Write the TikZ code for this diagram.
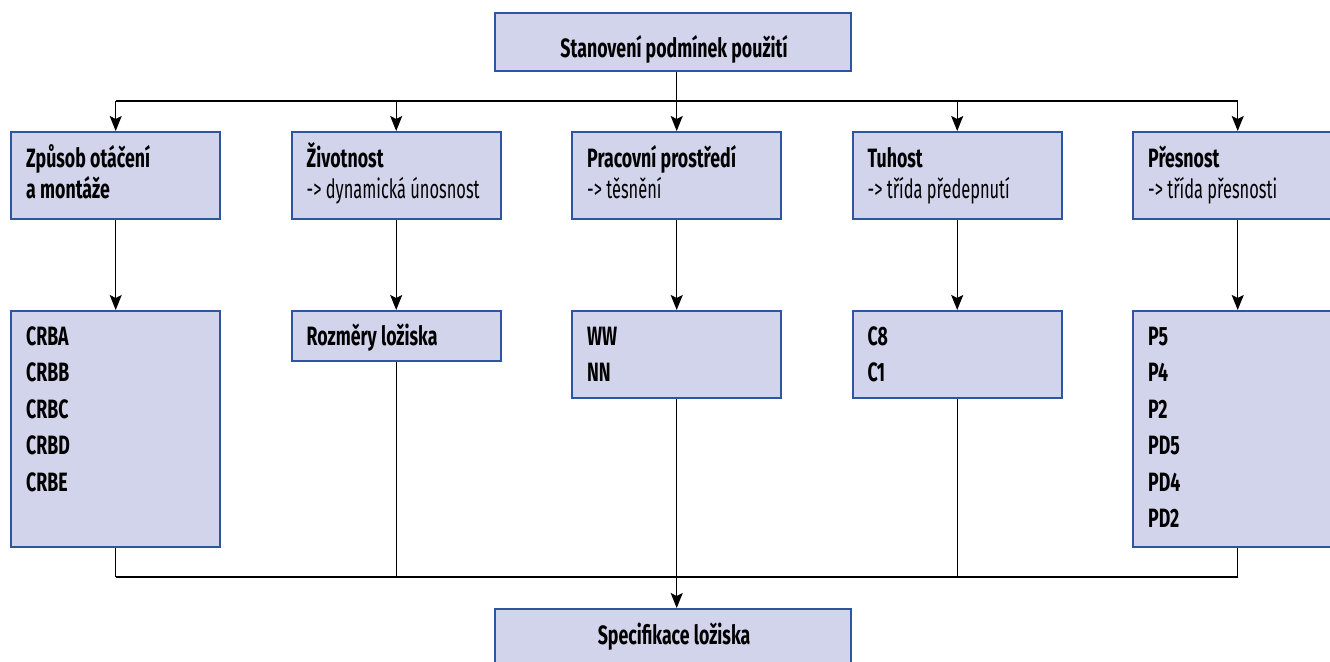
\documentclass[tikz,border=0pt]{standalone}
\usepackage{fontspec}
\setmainfont{Fira Sans}[FakeStretch=0.62, BoldFeatures={FakeStretch=0.67}]
\usetikzlibrary{arrows.meta}
\definecolor{boxfill}{RGB}{210,212,235}
\definecolor{boxdraw}{RGB}{47,84,160}
\tikzset{
  box/.style={draw=boxdraw, fill=boxfill, line width=2.4pt, inner sep=0pt, anchor=north west, minimum width=209pt},
  hbox/.style={box, minimum height=87pt},
  txtb/.style={anchor=base west, inner sep=0pt, font=\bfseries\fontsize{26.5}{30}\selectfont},
  txtn/.style={anchor=base west, inner sep=0pt, font=\fontsize{26.5}{30}\selectfont},
  conn/.style={draw=black, line width=1.2pt},
  arr/.style={conn, -{Stealth[length=15pt,width=12pt,inset=3pt]}}
}
\begin{document}
\begin{tikzpicture}[x=1pt,y=-1pt]
\useasboundingbox (0,0) rectangle (1330,661);
\clip (0,0) rectangle (1330,661);
% boxes
\node[box, minimum width=356pt, minimum height=58pt] (top) at (494,12) {};
\node[box, minimum width=356pt, minimum height=56pt] (spec) at (494,608) {};
\node[hbox] (b1) at (10,131) {};
\node[hbox] (b2) at (290.5,131) {};
\node[hbox] (b3) at (571,131) {};
\node[hbox] (b4) at (851.5,131) {};
\node[hbox] (b5) at (1132,131) {};
\node[box, minimum height=236pt] (c1) at (10,310) {};
\node[box, minimum height=50pt] (c2) at (290.5,310) {};
\node[box, minimum height=87pt] (c3) at (571,310) {};
\node[box, minimum height=87pt] (c4) at (851.5,310) {};
\node[box, minimum height=236pt] (c5) at (1132,310) {};
% texts
\node[txtb, anchor=base] (ttop) at (674,57) {Stanovení podmínek použití};
\node[txtb, anchor=base] (tspec) at (674,644) {Specifikace ložiska};
\node[txtb] (t1a) at ([shift={(16,36)}]b1.north west) {Způsob otáčení};
\node[txtb] (t1b) at ([shift={(16,67)}]b1.north west) {a montáže};
\node[txtb] (t2a) at ([shift={(16,36)}]b2.north west) {Životnost};
\node[txtn] (t2b) at ([shift={(16,67)}]b2.north west) {-> dynamická únosnost};
\node[txtb] (t3a) at ([shift={(16,36)}]b3.north west) {Pracovní prostředí};
\node[txtn] (t3b) at ([shift={(16,67)}]b3.north west) {-> těsnění};
\node[txtb] (t4a) at ([shift={(16,36)}]b4.north west) {Tuhost};
\node[txtn] (t4b) at ([shift={(16,67)}]b4.north west) {-> třída předepnutí};
\node[txtb] (t5a) at ([shift={(16,36)}]b5.north west) {Přesnost};
\node[txtn] (t5b) at ([shift={(16,67)}]b5.north west) {-> třída přesnosti};
\foreach \t [count=\i from 0] in {CRBA,CRBB,CRBC,CRBD,CRBE}
  \node[txtb] (tc1-\i) at ([shift={(16,35+36.5*\i)}]c1.north west) {\t};
\node[txtb] (tc2) at ([shift={(16,35)}]c2.north west) {Rozměry ložiska};
\foreach \t [count=\i from 0] in {WW,NN}
  \node[txtb] (tc3-\i) at ([shift={(16,35+36.5*\i)}]c3.north west) {\t};
\foreach \t [count=\i from 0] in {C8,C1}
  \node[txtb] (tc4-\i) at ([shift={(16,35+36.5*\i)}]c4.north west) {\t};
\foreach \t [count=\i from 0] in {P5,P4,P2,PD5,PD4,PD2}
  \node[txtb] (tc5-\i) at ([shift={(16,35+36.5*\i)}]c5.north west) {\t};
% connectors top
\coordinate (hub) at (0,101);
\coordinate (bot) at (0,577);
\draw[conn] (b3.north |- top.south) -- (b3.north |- hub);
\draw[conn] (b1.north |- hub) -- (b5.north |- hub);
\foreach \n in {b1,b2,b3,b4,b5}
  \draw[arr] (\n.north |- hub) -- (\n.north);
\foreach \n in {b1,b2,b3,b4,b5}{
  \draw[arr] (\n.south) -- (\n.south |- c1.north);
}
% connectors bottom
\foreach \n in {c1,c2,c4,c5}
  \draw[conn] (\n.south) -- (\n.south |- bot);
\draw[conn] (c1.south |- bot) -- (c5.south |- bot);
\draw[arr] (c3.south) -- (c3.south |- spec.north);
\end{tikzpicture}
\end{document}
